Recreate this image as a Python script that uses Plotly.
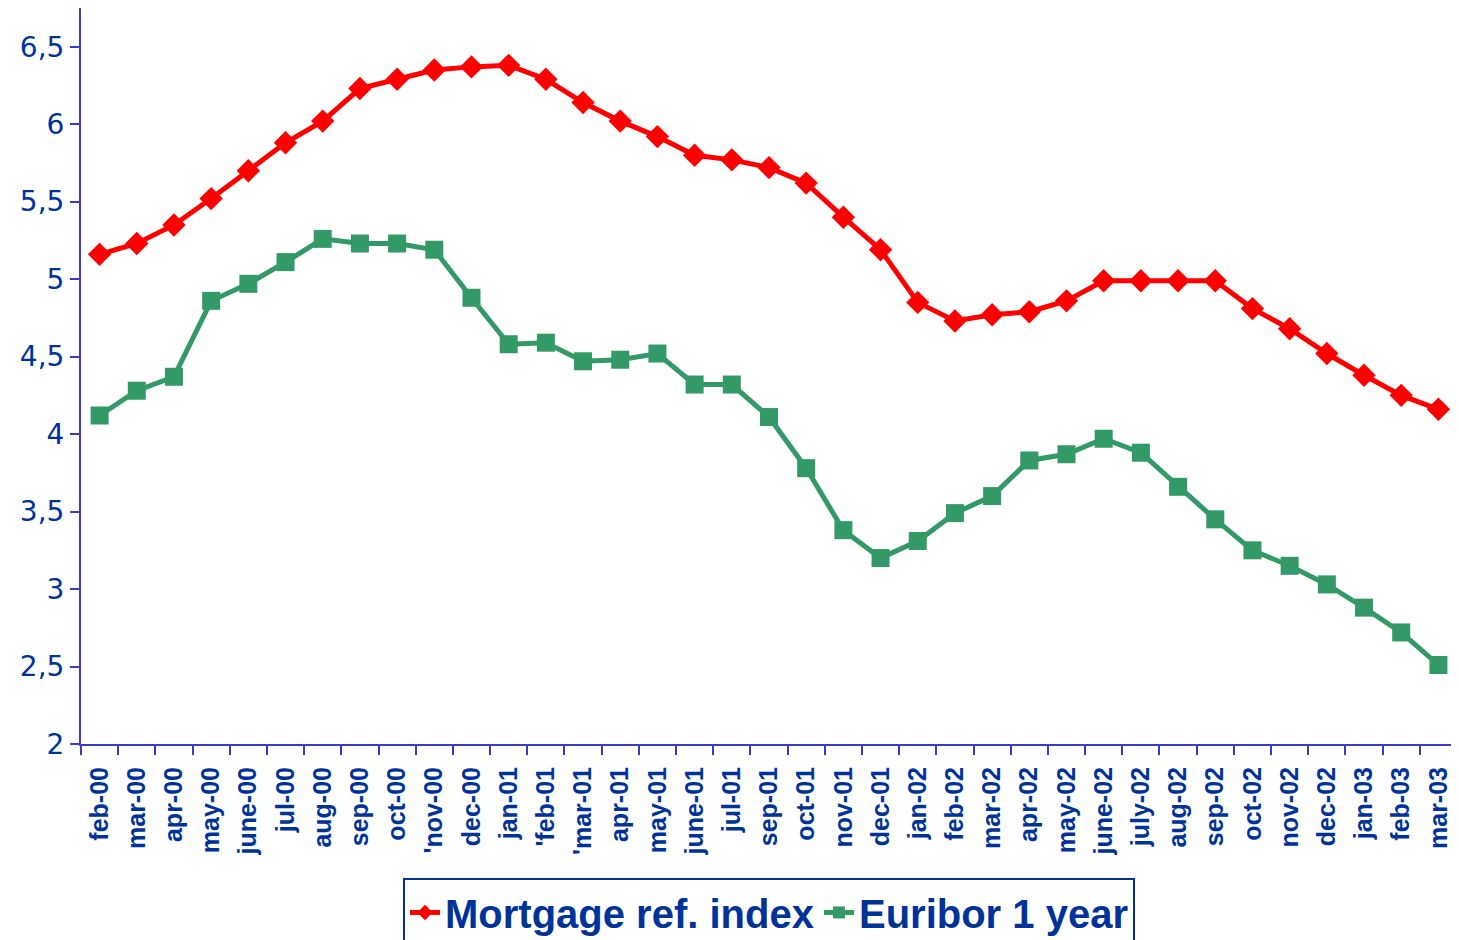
import plotly.graph_objects as go

months = ["feb-00", "mar-00", "apr-00", "may-00", "june-00", "jul-00", "aug-00", "sep-00",
          "oct-00", "'nov-00", "dec-00", "jan-01", "'feb-01", "'mar-01", "apr-01", "may-01",
          "june-01", "jul-01", "sep-01", "oct-01", "nov-01", "dec-01", "jan-02", "feb-02",
          "mar-02", "apr-02", "may-02", "june-02", "july-02", "aug-02", "sep-02", "oct-02",
          "nov-02", "dec-02", "jan-03", "feb-03", "mar-03"]

mortgage = [5.16, 5.23, 5.35, 5.52, 5.70, 5.88, 6.02, 6.23, 6.29, 6.35, 6.37, 6.38, 6.29,
            6.14, 6.02, 5.92, 5.80, 5.77, 5.72, 5.62, 5.40, 5.19, 4.85, 4.73, 4.77, 4.79,
            4.86, 4.99, 4.99, 4.99, 4.99, 4.81, 4.68, 4.52, 4.38, 4.25, 4.16]

euribor = [4.12, 4.28, 4.37, 4.86, 4.97, 5.11, 5.26, 5.23, 5.23, 5.19, 4.88, 4.58, 4.59,
           4.47, 4.48, 4.52, 4.32, 4.32, 4.11, 3.78, 3.38, 3.20, 3.31, 3.49, 3.60, 3.83,
           3.87, 3.97, 3.88, 3.66, 3.45, 3.25, 3.15, 3.03, 2.88, 2.72, 2.51]

y_ticks = [2, 2.5, 3, 3.5, 4, 4.5, 5, 5.5, 6, 6.5]
y_tick_text = ["2", "2,5", "3", "3,5", "4", "4,5", "5", "5,5", "6", "6,5"]

AXIS = "#3a3acc"
TEXT = "#003399"

fig = go.Figure()
fig.add_trace(go.Scatter(
    x=months, y=mortgage, name="Mortgage ref. index", mode="lines+markers",
    line=dict(color="#ff0000", width=5),
    marker=dict(symbol="diamond", size=18, color="#ff0000"),
))
fig.add_trace(go.Scatter(
    x=months, y=euribor, name="Euribor 1 year", mode="lines+markers",
    line=dict(color="#339966", width=5),
    marker=dict(symbol="square", size=18, color="#339966"),
))

# page body has an 8px default margin, so the figure is sized/offset to compensate
fig.update_layout(
    width=1451, height=932,
    margin=dict(l=73, r=2, t=0, b=196, autoexpand=False),
    paper_bgcolor="white", plot_bgcolor="white",
    showlegend=True,
    legend=dict(
        orientation="h", x=0.5, xanchor="center", y=-0.182, yanchor="top",
        font=dict(family="Liberation Sans", size=40, color=TEXT, weight="bold"),
        bordercolor=TEXT, borderwidth=2, bgcolor="white",
        itemsizing="constant",
    ),
    xaxis=dict(
        type="category", categoryorder="array", categoryarray=months,
        range=[-0.5, len(months) - 0.5], automargin=False,
        showline=True, linecolor=AXIS, linewidth=2,
        ticks="outside", tickson="boundaries", ticklen=9, tickwidth=2, tickcolor=AXIS,
        tickangle=-90, showgrid=False, zeroline=False, ticklabelstandoff=11,
        tickfont=dict(family="Liberation Sans", size=25, color=TEXT, weight="bold"),
    ),
    yaxis=dict(
        range=[2, 6.75], tickvals=y_ticks, ticktext=y_tick_text, automargin=False,
        showline=True, linecolor=AXIS, linewidth=2,
        ticks="outside", ticklen=9, tickwidth=2, tickcolor=AXIS,
        showgrid=False, zeroline=False,
        tickfont=dict(family="DejaVu Sans", size=28, color=TEXT),
    ),
)

fig.write_html("out.html")
